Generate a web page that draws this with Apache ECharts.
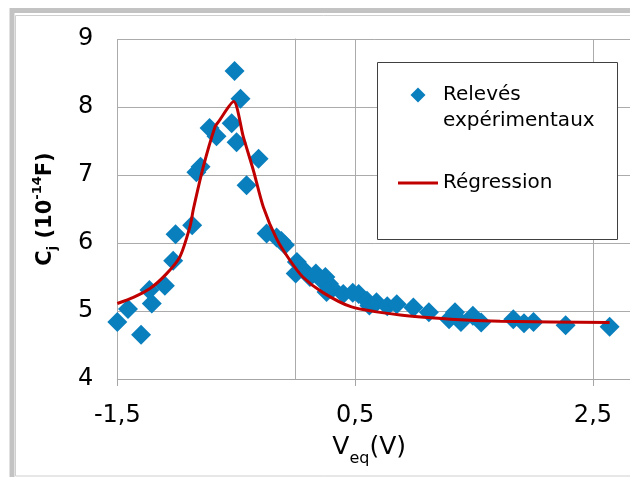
<!DOCTYPE html>
<html><head><meta charset="utf-8">
<script src="https://cdn.jsdelivr.net/npm/echarts@6/dist/echarts.min.js"></script>
<style>html,body{margin:0;padding:0;background:#fff}#c{width:630px;height:477px}</style>
</head><body><div id="c"></div>
<script>
// Measured points (Veq in V, Cj in 1e-14 F)
const measX = [-1.50,-1.41,-1.30,-1.23,-1.21,-1.10,-1.03,-1.01,-0.87,-0.835,-0.80,-0.724,-0.666,-0.538,-0.514,-0.497,-0.464,-0.413,-0.312,-0.244,-0.16,-0.12,-0.09,0.01,0.00,0.07,0.12,0.17,0.21,0.25,0.28,0.31,0.26,0.40,0.48,0.53,0.60,0.62,0.68,0.77,0.85,0.99,1.12,1.29,1.34,1.39,1.49,1.56,1.83,1.92,2.00,2.27,2.64];
const measY = [4.84,5.03,4.65,5.31,5.11,5.37,5.74,6.13,6.26,7.04,7.12,7.69,7.57,7.76,8.53,7.48,8.12,6.85,7.24,6.14,6.08,6.03,5.97,5.72,5.55,5.60,5.50,5.55,5.47,5.50,5.40,5.33,5.28,5.25,5.27,5.25,5.15,5.08,5.13,5.07,5.10,5.05,4.98,4.88,4.98,4.84,4.93,4.83,4.88,4.82,4.84,4.79,4.77];
// Regression curve
const regX = [-1.5,-1.365,-1.225,-1.085,-0.973,-0.889,-0.86,-0.777,-0.678,-0.65,-0.522,-0.44,-0.356,-0.272,-0.16,-0.05,0.06,0.23,0.47,0.88,1.3,1.72,2.64];
const regY = [5.11,5.20,5.33,5.55,5.80,6.24,6.50,7.12,7.71,7.78,8.08,7.56,7.07,6.53,6.06,5.75,5.50,5.27,5.06,4.94,4.88,4.85,4.83];
const xTicks = [-1.5, 0.5, 2.5];
const seriesNames = ['Relevés expérimentaux', 'Régression'];

const FONT = 'DejaVu Sans';
const fmt = v => String(v).replace('.', ',');
const chart = echarts.init(document.getElementById('c'), null, {renderer: 'canvas'});
chart.setOption({
  animation: false,
  backgroundColor: '#fff',
  graphic: [
    {type: 'rect', z: -10, shape: {x: 12, y: 10.5, width: 700, height: 520}, style: {fill: 'none', stroke: '#c3c3c3', lineWidth: 5}},
    {type: 'rect', z: -10, shape: {x: 15.5, y: 15.5, width: 700, height: 460.5}, style: {fill: 'none', stroke: '#cfcfcf', lineWidth: 1}},
    {type: 'rect', z: 3, shape: {x: 377.5, y: 62.5, width: 240, height: 177}, style: {fill: '#fff', stroke: '#404040', lineWidth: 1}}
  ],
  grid: {left: 117.3, top: 39, width: 518.7, height: 340, containLabel: false, outerBoundsMode: 'none'},
  legend: {
    z: 5, orient: 'vertical', left: 398, top: 56, padding: 0, itemGap: 36,
    itemWidth: 40, itemHeight: 15, symbolKeepAspect: true,
    textStyle: {fontFamily: FONT, fontSize: 20, color: '#000', lineHeight: 26},
    formatter: n => n === seriesNames[0] ? ' \nRelevés\nexpérimentaux' : n,
    data: [
      {name: seriesNames[0], icon: 'path://M10,0L20,10L10,20L0,10Z'},
      {name: seriesNames[1], icon: 'path://M0,0L40,0L40,3L0,3Z'}
    ]
  },
  xAxis: {
    type: 'value', min: -1.5, max: 2.862, interval: 2,
    axisLine: {show: true, onZero: false, lineStyle: {color: '#a6a6a6', width: 1}},
    axisTick: {show: true, length: 7, customValues: xTicks, lineStyle: {color: '#a6a6a6'}},
    axisLabel: {customValues: xTicks, formatter: fmt, fontFamily: FONT, fontSize: 24, color: '#000', margin: 25},
    splitLine: {show: true, lineStyle: {color: '#ababab', width: 1}},
    name: '{n|V}{s|eq}{n|(V)}', nameLocation: 'middle', nameGap: 56,
    nameTextStyle: {padding: [0, 15, 0, 0], rich: {
      n: {fontFamily: FONT, fontSize: 25, color: '#000', lineHeight: 32, verticalAlign: 'top'},
      s: {fontFamily: FONT, fontSize: 16, color: '#000', lineHeight: 16, verticalAlign: 'bottom'}
    }}
  },
  yAxis: {
    type: 'value', min: 4, max: 9, interval: 1,
    axisLine: {show: true, lineStyle: {color: '#a6a6a6', width: 1}},
    axisTick: {show: false},
    axisLabel: {fontFamily: FONT, fontSize: 24, color: '#000', margin: 24},
    splitLine: {show: true, lineStyle: {color: '#ababab', width: 1}},
    name: '{b|C}{s|j}{b| (10}{p|-14}{b|F)}', nameLocation: 'middle', nameRotate: 90, nameGap: 58,
    nameTextStyle: {rich: {
      b: {fontFamily: FONT, fontSize: 21, fontWeight: 'bold', color: '#000', lineHeight: 28},
      s: {fontFamily: FONT, fontSize: 13, fontWeight: 'bold', color: '#000', lineHeight: 13, verticalAlign: 'bottom'},
      p: {fontFamily: FONT, fontSize: 13, fontWeight: 'bold', color: '#000', lineHeight: 13, verticalAlign: 'top'}
    }}
  },
  series: [
    {
      name: seriesNames[0], type: 'scatter', symbol: 'diamond', symbolSize: 20, z: 2,
      itemStyle: {color: '#0a7fbd', opacity: 1},
      data: measX.map((x, i) => [x, measY[i]])
    },
    {
      name: seriesNames[1], type: 'line', symbol: 'none', smooth: 0.25, z: 3,
      lineStyle: {color: '#c00000', width: 3}, itemStyle: {color: '#c00000'},
      data: regX.map((x, i) => [x, regY[i]]),
      markLine: {silent: true, z: 1, symbol: 'none', label: {show: false}, animation: false,
        lineStyle: {color: '#ababab', width: 1, type: 'solid'}, data: [{xAxis: 0}]}
    }
  ]
});
</script></body></html>
